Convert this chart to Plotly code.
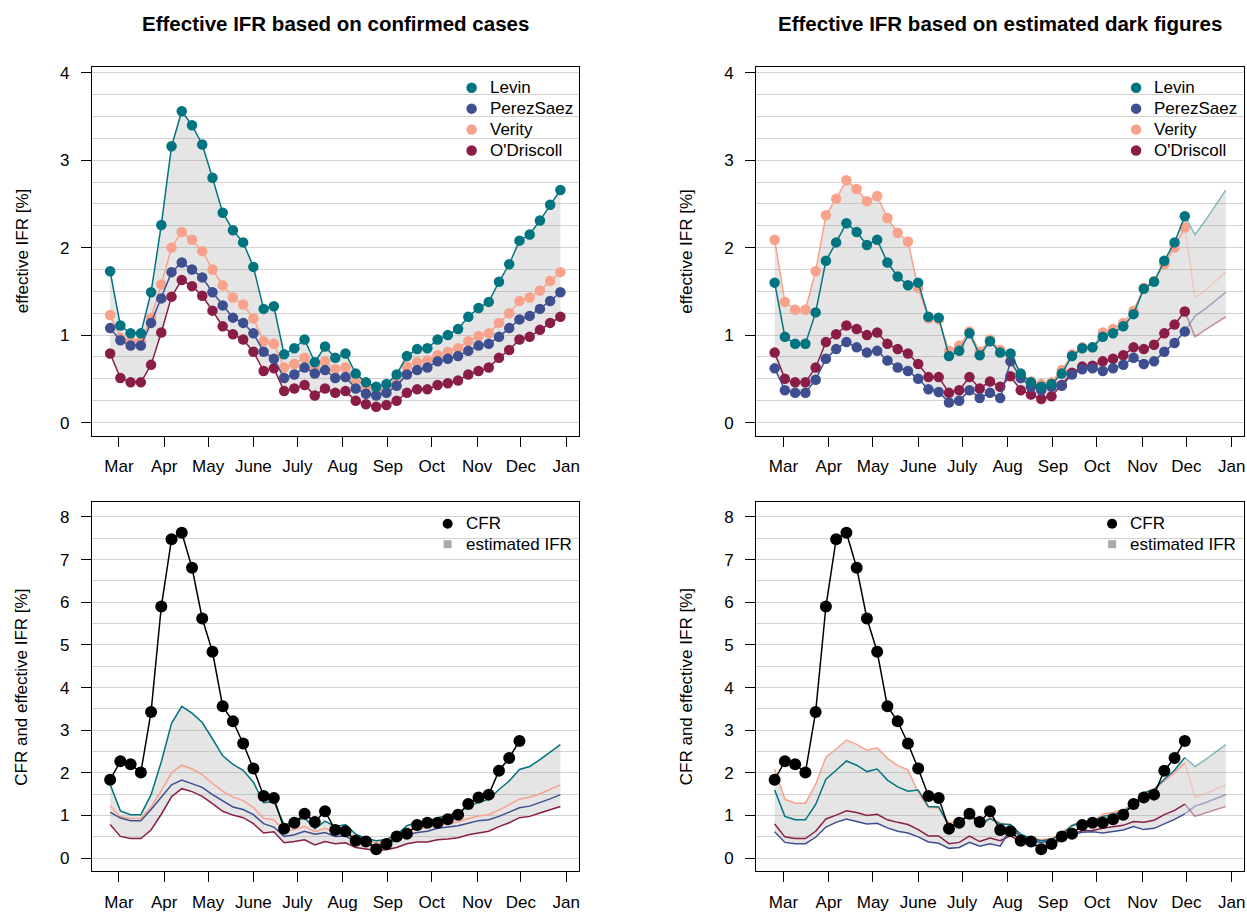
import numpy as np
import pandas as pd
import plotly.graph_objects as go

# ---------------- data ----------------
dates = pd.date_range("2020-02-24", periods=45, freq="7D")

series_names = ["Levin", "PerezSaez", "Verity", "O'Driscoll"]
series_colors = ["#007480", "#3E4F90", "#F9A28B", "#8A1D47"]

# effective IFR based on confirmed cases (45 weekly values)
levin_conf = [1.73, 1.11, 1.02, 1.02, 1.49, 2.26, 3.16, 3.56, 3.40, 3.18,
              2.80, 2.40, 2.20, 2.06, 1.78, 1.30, 1.33, 0.78, 0.85, 0.95,
              0.69, 0.87, 0.74, 0.79, 0.56, 0.46, 0.41, 0.44, 0.55, 0.76,
              0.84, 0.85, 0.95, 1.00, 1.07, 1.21, 1.31, 1.38, 1.61, 1.81,
              2.08, 2.15, 2.31, 2.49, 2.66]
perez_conf = [1.08, 0.94, 0.88, 0.88, 1.14, 1.42, 1.72, 1.83, 1.75, 1.66,
              1.49, 1.34, 1.20, 1.14, 1.02, 0.81, 0.73, 0.51, 0.55, 0.63,
              0.56, 0.60, 0.51, 0.52, 0.39, 0.33, 0.31, 0.34, 0.42, 0.55,
              0.60, 0.63, 0.70, 0.73, 0.76, 0.82, 0.88, 0.90, 0.98, 1.08,
              1.18, 1.22, 1.30, 1.39, 1.49]
verity_conf = [1.23, 0.97, 0.93, 0.93, 1.20, 1.58, 2.00, 2.18, 2.09, 1.96,
               1.75, 1.57, 1.43, 1.35, 1.19, 0.93, 0.90, 0.63, 0.67, 0.74,
               0.62, 0.70, 0.61, 0.63, 0.49, 0.41, 0.37, 0.39, 0.49, 0.64,
               0.69, 0.71, 0.77, 0.81, 0.85, 0.93, 0.99, 1.02, 1.14, 1.25,
               1.39, 1.43, 1.51, 1.62, 1.72]
odris_conf = [0.79, 0.51, 0.46, 0.46, 0.66, 1.03, 1.44, 1.63, 1.56, 1.45,
              1.28, 1.10, 1.01, 0.95, 0.81, 0.59, 0.62, 0.36, 0.39, 0.43,
              0.31, 0.39, 0.34, 0.36, 0.25, 0.21, 0.18, 0.20, 0.25, 0.34,
              0.38, 0.38, 0.43, 0.45, 0.48, 0.55, 0.59, 0.63, 0.74, 0.83,
              0.95, 0.98, 1.06, 1.14, 1.21]

# effective IFR based on estimated dark figures (41 weekly values, to Nov 30)
levin_dark = [1.60, 0.98, 0.90, 0.90, 1.26, 1.85, 2.06, 2.28, 2.18, 2.03,
              2.09, 1.83, 1.67, 1.57, 1.60, 1.21, 1.20, 0.76, 0.82, 1.02,
              0.77, 0.93, 0.80, 0.79, 0.56, 0.46, 0.41, 0.44, 0.56, 0.76,
              0.85, 0.86, 0.98, 1.02, 1.10, 1.24, 1.53, 1.61, 1.85, 2.06,
              2.36]
perez_dark = [0.62, 0.37, 0.34, 0.34, 0.49, 0.73, 0.84, 0.92, 0.86, 0.80,
              0.82, 0.71, 0.63, 0.59, 0.50, 0.38, 0.35, 0.23, 0.25, 0.37,
              0.28, 0.34, 0.28, 0.70, 0.51, 0.41, 0.37, 0.41, 0.42, 0.55,
              0.61, 0.62, 0.59, 0.62, 0.66, 0.74, 0.67, 0.70, 0.81, 0.91,
              1.04]
verity_dark = [2.09, 1.38, 1.29, 1.29, 1.73, 2.37, 2.56, 2.77, 2.67, 2.53,
               2.59, 2.34, 2.17, 2.07, 1.54, 1.19, 1.18, 0.82, 0.88, 1.04,
               0.81, 0.95, 0.83, 0.77, 0.55, 0.47, 0.44, 0.46, 0.60, 0.78,
               0.86, 0.86, 1.03, 1.07, 1.14, 1.28, 1.54, 1.62, 1.81, 2.00,
               2.23]
odris_dark = [0.80, 0.50, 0.46, 0.46, 0.63, 0.92, 1.01, 1.11, 1.07, 1.00,
              1.03, 0.90, 0.84, 0.79, 0.67, 0.52, 0.52, 0.34, 0.37, 0.52,
              0.39, 0.47, 0.41, 0.53, 0.37, 0.32, 0.27, 0.30, 0.43, 0.57,
              0.64, 0.65, 0.70, 0.73, 0.77, 0.86, 0.84, 0.89, 1.02, 1.12,
              1.27]

# case fatality rate (41 weekly values, to Nov 30)
cfr = [1.84, 2.27, 2.20, 2.01, 3.43, 5.90, 7.48, 7.63, 6.81, 5.62,
       4.84, 3.56, 3.21, 2.69, 2.10, 1.46, 1.41, 0.69, 0.83, 1.04,
       0.85, 1.10, 0.66, 0.63, 0.41, 0.39, 0.21, 0.33, 0.51, 0.57,
       0.78, 0.83, 0.83, 0.91, 1.02, 1.27, 1.42, 1.49, 2.05, 2.35,
       2.75]

month_ticks = ["2020-03-01", "2020-04-01", "2020-05-01", "2020-06-01", "2020-07-01",
               "2020-08-01", "2020-09-01", "2020-10-01", "2020-11-01", "2020-12-01",
               "2021-01-01"]
month_labels = ["Mar", "Apr", "May", "June", "July", "Aug", "Sep", "Oct", "Nov", "Dec", "Jan"]

conf = [levin_conf, perez_conf, verity_conf, odris_conf]
dark = [levin_dark, perez_dark, verity_dark, odris_dark]
n_dark = len(levin_dark)

# dark-figure series completed with confirmed-case values after Nov 30
dark_full = [list(d) + list(c[n_dark:]) for d, c in zip(dark, conf)]

# ---------------- figure ----------------
W, H = 1247, 914
FONT = "Liberation Sans, Arial, Helvetica, sans-serif"
FILL = "rgba(150,150,150,0.25)"
MS = 10.5      # marker size of IFR points
MS_CFR = 12    # marker size of CFR points


def rgba(hexcol, a):
    h = hexcol.lstrip("#")
    r, g, b = int(h[0:2], 16), int(h[2:4], 16), int(h[4:6], 16)
    return f"rgba({r},{g},{b},{a})"


fig = go.Figure()


def add_band(series, xa, ya):
    arr = np.array(series)
    lo = arr.min(axis=0)
    hi = arr.max(axis=0)
    x = dates[:arr.shape[1]]
    fig.add_trace(go.Scatter(x=x, y=lo, mode="lines", line=dict(width=0),
                             hoverinfo="skip", showlegend=False, xaxis=xa, yaxis=ya))
    fig.add_trace(go.Scatter(x=x, y=hi, mode="lines", line=dict(width=0),
                             fill="tonexty", fillcolor=FILL, hoverinfo="skip",
                             showlegend=False, xaxis=xa, yaxis=ya))


draw_order = [3, 2, 1, 0]

# ---- panel 1: confirmed cases ----
add_band(conf, "x", "y")
for i in draw_order:
    fig.add_trace(go.Scatter(x=dates, y=conf[i], mode="lines+markers", name=series_names[i],
                             line=dict(color=series_colors[i], width=1.5),
                             marker=dict(color=series_colors[i], size=MS),
                             showlegend=False, xaxis="x", yaxis="y"))

# ---- panel 2: dark figures ----
add_band(dark_full, "x2", "y2")
for i in draw_order:
    fig.add_trace(go.Scatter(x=dates[n_dark - 1:], y=dark_full[i][n_dark - 1:], mode="lines",
                             line=dict(color=rgba(series_colors[i], 0.45), width=1.5),
                             showlegend=False, xaxis="x2", yaxis="y2"))
for i in draw_order:
    fig.add_trace(go.Scatter(x=dates[:n_dark], y=dark[i], mode="lines+markers", name=series_names[i],
                             line=dict(color=series_colors[i], width=1.5),
                             marker=dict(color=series_colors[i], size=MS),
                             showlegend=False, xaxis="x2", yaxis="y2"))

# ---- panel 3: CFR vs confirmed-case IFR ----
add_band(conf, "x3", "y3")
for i in draw_order:
    fig.add_trace(go.Scatter(x=dates, y=conf[i], mode="lines", name=series_names[i],
                             line=dict(color=series_colors[i], width=1.5),
                             showlegend=False, xaxis="x3", yaxis="y3"))
fig.add_trace(go.Scatter(x=dates[:len(cfr)], y=cfr, mode="lines+markers", name="CFR",
                         line=dict(color="black", width=1.5),
                         marker=dict(color="black", size=MS_CFR),
                         showlegend=False, xaxis="x3", yaxis="y3"))

# ---- panel 4: CFR vs dark-figure IFR ----
add_band(dark_full, "x4", "y4")
for i in draw_order:
    fig.add_trace(go.Scatter(x=dates[n_dark - 1:], y=dark_full[i][n_dark - 1:], mode="lines",
                             line=dict(color=rgba(series_colors[i], 0.45), width=1.5),
                             showlegend=False, xaxis="x4", yaxis="y4"))
for i in draw_order:
    fig.add_trace(go.Scatter(x=dates[:n_dark], y=dark[i], mode="lines", name=series_names[i],
                             line=dict(color=series_colors[i], width=1.5),
                             showlegend=False, xaxis="x4", yaxis="y4"))
fig.add_trace(go.Scatter(x=dates[:len(cfr)], y=cfr, mode="lines+markers", name="CFR",
                         line=dict(color="black", width=1.5),
                         marker=dict(color="black", size=MS_CFR),
                         showlegend=False, xaxis="x4", yaxis="y4"))

# ---------------- layout ----------------
xl = [92 / W, 579 / W]
xr = [757 / W, 1245 / W]
yt = [1 - 434.3 / H, 1 - 64 / H]
yb = [1 - 871 / H, 1 - 501 / H]
xrange = ["2020-02-11 13:00", "2021-01-09 10:00"]


def xaxis(dom, anchor):
    return dict(domain=dom, anchor=anchor, type="date", range=xrange,
                tickmode="array", tickvals=month_ticks, ticktext=month_labels,
                showgrid=False, zeroline=False, showline=True, mirror=True,
                linecolor="black", linewidth=1.3, ticks="outside", ticklen=10,
                tickwidth=1.3, tickcolor="black", ticklabelstandoff=5,
                tickfont=dict(size=17, color="black", family=FONT))


def yaxis(dom, anchor, rng, top, minor):
    return dict(domain=dom, anchor=anchor, range=rng,
                tickmode="array", tickvals=list(range(0, top + 1)),
                ticktext=[str(v) for v in range(0, top + 1)],
                showgrid=True, gridcolor="#D3D3D3", gridwidth=1.2,
                minor=dict(dtick=minor, tick0=0, showgrid=True, gridcolor="#D3D3D3",
                           gridwidth=1.2, ticks=""),
                zeroline=False, showline=True, mirror=True,
                linecolor="black", linewidth=1.3, ticks="outside", ticklen=10,
                tickwidth=1.3, tickcolor="black", ticklabelstandoff=8,
                tickfont=dict(size=17, color="black", family=FONT))


fig.update_layout(
    width=W, height=H, autosize=False,
    margin=dict(l=0, r=0, t=0, b=0),
    paper_bgcolor="white", plot_bgcolor="white",
    font=dict(family=FONT, size=17, color="black"),
    showlegend=False,
    xaxis=xaxis(xl, "y"), yaxis=yaxis(yt, "x", [-0.152, 4.068], 4, 0.25),
    xaxis2=xaxis(xr, "y2"), yaxis2=yaxis(yt, "x2", [-0.152, 4.068], 4, 0.25),
    xaxis3=xaxis(xl, "y3"), yaxis3=yaxis(yb, "x3", [-0.304, 8.343], 8, 0.5),
    xaxis4=xaxis(xr, "y4"), yaxis4=yaxis(yb, "x4", [-0.304, 8.343], 8, 0.5),
)

# ---- panel titles ----
titles = [("Effective IFR based on confirmed cases", (92 + 579) / 2),
          ("Effective IFR based on estimated dark figures", (757 + 1245) / 2)]
for txt, xc in titles:
    fig.add_annotation(text=f"<b>{txt}</b>", x=xc / W, y=1 - 21 / H, xref="paper", yref="paper",
                       showarrow=False, xanchor="center", yanchor="middle",
                       font=dict(size=20.5, color="black", family=FONT))

# ---- y-axis titles ----
ylabels = [("effective IFR [%]", 22, (64 + 434) / 2), ("effective IFR [%]", 687, (64 + 434) / 2),
           ("CFR and effective IFR [%]", 22, (501 + 871) / 2),
           ("CFR and effective IFR [%]", 687, (501 + 871) / 2)]
for txt, xc, yc in ylabels:
    fig.add_annotation(text=txt, x=xc / W, y=1 - yc / H, xref="paper", yref="paper",
                       showarrow=False, xanchor="center", yanchor="middle", textangle=-90,
                       font=dict(size=17, color="black", family=FONT))


# ---- legends (R-style key: symbol + label inside the top-right corner) ----
def legend_entry(cx, cy, label, color, symbol="circle", d=10):
    r = d / 2
    shape_type = "circle" if symbol == "circle" else "rect"
    fig.add_shape(type=shape_type, xref="paper", yref="paper",
                  x0=(cx - r) / W, x1=(cx + r) / W, y0=1 - (cy + r) / H, y1=1 - (cy - r) / H,
                  fillcolor=color, line=dict(width=0), layer="above")
    fig.add_annotation(text=label, x=(cx + 16) / W, y=1 - cy / H, xref="paper", yref="paper",
                       showarrow=False, xanchor="left", yanchor="middle",
                       font=dict(size=17, color="black", family=FONT))


row_y = [85, 106, 127, 148]
for x0 in (472, 472 + 665):
    for i in range(4):
        legend_entry(x0, row_y[i], series_names[i], series_colors[i], d=10.5)

for x0 in (448, 448 + 665):
    legend_entry(x0, 522.5, "CFR", "black", d=10)
    legend_entry(x0, 543, "estimated IFR", "#AAAAAA", symbol="square", d=8)

fig.write_html("out.html", include_plotlyjs=True, config={"displayModeBar": False},
               post_script="document.body.style.margin='0';document.body.style.padding='0';")
